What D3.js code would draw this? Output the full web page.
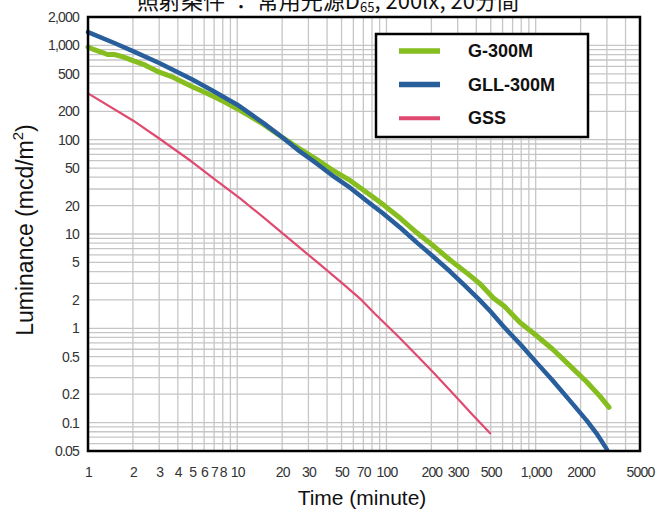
<!DOCTYPE html>
<html>
<head>
<meta charset="utf-8">
<script src="https://cdn.jsdelivr.net/npm/d3@7"></script>
<style>
  body { margin: 0; background: #fff; }
  svg { display: block; }
</style>
</head>
<body>
<div id="chart"></div>
<script>
// luminance decay data, [minutes, mcd/m2]
const g300m = [[1,960],[1.1,900],[1.25,840],[1.35,800],[1.5,800],[1.7,760],[2,690],[2.4,620],[3,520],[3.6,470],
  [4.3,410],[5,365],[6,320],[7,285],[8.5,245],[10,212],[12,180],[15,145],[20,106],[25,84],[34,62],[45,46],[57,37],
  [75,27],[95,20.5],[125,14.5],[160,10.3],[200,7.8],[267,5.3],[350,3.8],[420,3.0],[520,2.1],[620,1.7],[785,1.15],
  [1000,0.85],[1300,0.6],[1700,0.4],[2200,0.27],[2700,0.19],[3100,0.145]];
const gll300m = [[1,1380],[1.5,1060],[2,870],[3,650],[5,435],[7,325],[10,235],[15,150],[20,106],[26,76],[34,56],
  [45,40],[57,31],[75,22],[95,16.5],[125,11.5],[160,8.1],[200,6.0],[267,4.0],[330,2.9],[420,2.0],[500,1.5],
  [607,1.05],[800,0.66],[1017,0.43],[1300,0.28],[1700,0.17],[2200,0.105],[2600,0.074],[3000,0.052]];
const gss = [[1,310],[2,160],[3,103],[5,58],[7,38.5],[10.4,24],[15,15],[21,9.6],[35,4.9],[50,3.05],[68,2.0],
  [84,1.42],[120,0.82],[163,0.5],[210,0.33],[274,0.21],[380,0.12],[495,0.077]];

const seriesNames = ["G-300M", "GLL-300M", "GSS"];
const xTicks = [1,2,3,4,5,6,7,8,10,20,30,50,70,100,200,300,500,1000,2000,5000];
const xTickLabels = ["1","2","3","4","5","6","7","8","10","20","30","50","70","100","200","300","500","1,000","2000","5000"];
const yTicks = [2000,1000,500,200,100,50,20,10,5,2,1,0.5,0.2,0.1,0.05];
const yTickLabels = ["2,000","1,000","500","200","100","50","20","10","5","2","1","0.5","0.2","0.1","0.05"];

const w = 659, h = 512;
const pL = 88, pR = 640, pT = 17, pB = 451;
const colors = ["#86bd1f", "#285e9c", "#e04a70"];
const widths = [5, 4.5, 2.2];

const svg = d3.select("#chart").append("svg").attr("width", w).attr("height", h);

const x = d3.scaleLog().domain([1, 5000]).range([pL, pR]);
const y = d3.scaleLog().domain([0.05, 2000]).range([pB, pT]);

// grid
svg.append("g").selectAll("line").data(x.ticks()).join("line")
    .attr("x1", d => x(d)).attr("x2", d => x(d)).attr("y1", pT).attr("y2", pB)
    .attr("stroke", "#c6c6c6").attr("stroke-width", 1.3);
svg.append("g").selectAll("line").data(y.ticks()).join("line")
    .attr("y1", d => y(d)).attr("y2", d => y(d)).attr("x1", pL).attr("x2", pR)
    .attr("stroke", "#c6c6c6").attr("stroke-width", 1.3);

// curves
const line = d3.line().x(d => x(d[0])).y(d => y(d[1]));
[g300m, gll300m, gss].forEach((s, i) => {
    svg.append("path").datum(s).attr("d", line).attr("fill", "none")
        .attr("stroke", colors[i]).attr("stroke-width", widths[i])
        .attr("stroke-linejoin", "round").attr("stroke-linecap", "round");
});

// frame
svg.append("rect").attr("x", pL).attr("y", pT).attr("width", pR - pL).attr("height", pB - pT)
    .attr("fill", "none").attr("stroke", "#000").attr("stroke-width", 2.5);

// axes
const tickFont = g => g.call(g => g.select(".domain").remove())
    .selectAll("text").attr("fill", "#333").style("font-family", "'Liberation Sans', Arial, sans-serif")
    .style("font-size", "14px").style("letter-spacing", "-0.8px");
svg.append("g").attr("transform", `translate(${pL - 1},0)`)
    .call(d3.axisLeft(y).tickValues(yTicks).tickFormat((d, i) => yTickLabels[i]).tickSize(0).tickPadding(8))
    .call(tickFont);
svg.append("g").attr("transform", `translate(0,${pB})`)
    .call(d3.axisBottom(x).tickValues(xTicks).tickFormat((d, i) => xTickLabels[i]).tickSize(0).tickPadding(16))
    .call(tickFont);

// legend
const lg = svg.append("g");
lg.append("rect").attr("x", 376).attr("y", 34).attr("width", 212).attr("height", 103)
    .attr("fill", "#fff").attr("stroke", "#000").attr("stroke-width", 2.5);
seriesNames.forEach((n, i) => {
    const ly = 51 + i * 33.6;
    lg.append("line").attr("x1", 399).attr("x2", 440).attr("y1", ly).attr("y2", ly)
        .attr("stroke", colors[i]).attr("stroke-width", i == 2 ? 4 : 5.5);
    lg.append("text").attr("x", 468).attr("y", ly + 6).text(n)
        .style("font-family", "'Liberation Sans', Arial, sans-serif").style("font-weight", "bold")
        .style("font-size", "18px").attr("fill", "#111");
});

// titles (top of the caption is cut off in the original)
const title = svg.append("text").attr("x", 137).attr("y", 9)
    .style("font-family", "'Noto Sans CJK JP', sans-serif").style("font-size", "22px").attr("fill", "#111");
title.append("tspan").text("照射条件 ： 常用光源D");
title.append("tspan").text("65").style("font-size", "13px").attr("dy", 3);
title.append("tspan").text(", 200lx, 20分間").attr("dy", -3);

svg.append("text").attr("x", 362).attr("y", 505).attr("text-anchor", "middle")
    .style("font-family", "'Liberation Sans', Arial, sans-serif").style("font-size", "21px").attr("fill", "#111")
    .text("Time (minute)");
const yt = svg.append("text").attr("transform", "translate(33,230) rotate(-90)").attr("text-anchor", "middle")
    .style("font-family", "'Liberation Sans', Arial, sans-serif").style("font-size", "23px").attr("fill", "#111");
yt.append("tspan").text("Luminance (mcd/m");
yt.append("tspan").text("2").style("font-size", "15px").attr("dy", -10);
yt.append("tspan").text(")").attr("dy", 10);
</script>
</body>
</html>
